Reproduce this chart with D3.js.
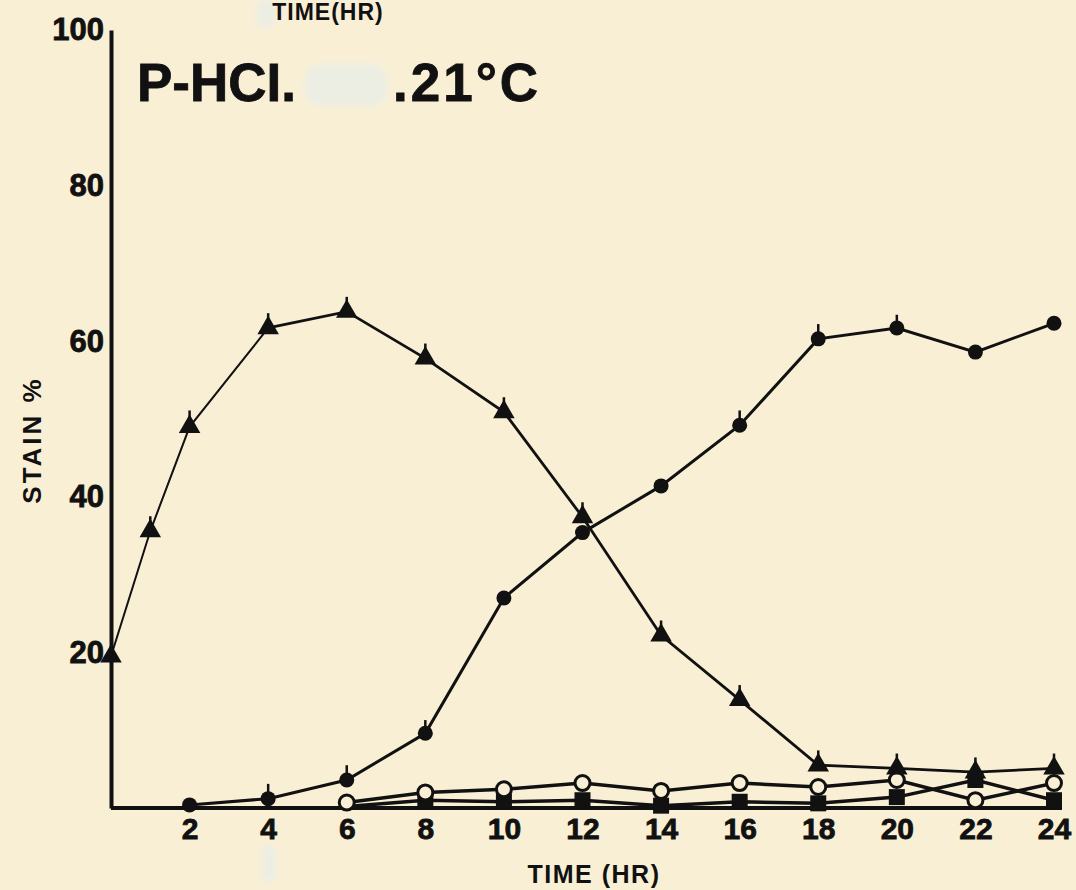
<!DOCTYPE html>
<html><head><meta charset="utf-8">
<script src="https://cdn.jsdelivr.net/npm/d3@7"></script>
<style>
html,body{margin:0;padding:0;background:#f9efd5;}
svg{display:block;}
text{font-family:"Liberation Sans",Arial,sans-serif;font-weight:bold;fill:#111;}
</style></head>
<body><svg id="c" width="1076" height="890"></svg>
<script>
// ---- data ----
const xTicks = [2,4,6,8,10,12,14,16,18,20,22,24];
const yTicks = [20,40,60,80,100];
const triHours = [0,1,2,4,6,8,10,12,14,16,18,20,22,24];
const triVals  = [19.5,35.6,49.0,61.7,63.8,57.8,50.9,37.4,22.2,13.9,5.5,5.1,4.6,5.1];
const triErr   = [0,1.0,1.2,1.0,1.0,1.0,1.0,1.0,1.0,1.0,1.0,1.0,1.0,1.0];
const dotHours = [2,4,6,8,10,12,14,16,18,20,22,24];
const dotVals  = [0.4,1.2,3.6,9.6,27.0,35.4,41.4,49.2,60.3,61.7,58.6,62.3];
const dotErr   = [0,1.0,1.0,0.8,0,0,0,1.0,1.0,0.8,0,0];
const openHours = [6,8,10,12,14,16,18,20,22,24];
const openVals  = [0.7,2.0,2.4,3.2,2.2,3.2,2.7,3.6,1.0,3.2];
const sqHours = [6,8,10,12,14,16,18,20,22,24];
const sqVals  = [0.2,1.0,0.8,1.0,0.3,0.8,0.6,1.4,3.6,1.0];

const svg = d3.select("#c");
const x = d3.scaleLinear().domain([0,24]).range([111,1054]);
const y = d3.scaleLinear().domain([0,100]).range([808,30]);
const ink = "#111";

// pale smudges from the scan
const defs = svg.append("defs");
defs.append("filter").attr("id","blur").append("feGaussianBlur").attr("stdDeviation",3);
const smudge = svg.append("g").attr("fill","#eceee4").attr("filter","url(#blur)");
smudge.append("rect").attr("x",305).attr("y",64).attr("width",82).attr("height",42).attr("rx",16);
smudge.append("rect").attr("x",256).attr("y",0).attr("width",20).attr("height",28).attr("rx",8);
smudge.append("rect").attr("x",262).attr("y",846).attr("width",14).attr("height",36).attr("rx",5);

// axes (via d3 axis, ticks hidden)
const yAxis = svg.append("g").attr("transform",`translate(${x(0)},0)`)
  .call(d3.axisLeft(y).tickValues(yTicks).tickSize(0).tickPadding(7));
yAxis.select(".domain").attr("stroke",ink).attr("stroke-width",4);
yAxis.selectAll("text").attr("font-size",31).attr("fill",ink)
  .attr("stroke",ink).attr("stroke-width",0.8)
  .style("font-family","'Liberation Sans',Arial,sans-serif").style("font-weight","bold");

const xAxis = svg.append("g").attr("transform",`translate(0,${y(0)})`)
  .call(d3.axisBottom(x).tickValues(xTicks).tickSize(0).tickPadding(10));
xAxis.select(".domain").attr("stroke",ink).attr("stroke-width",4)
  .attr("d",`M${x(0)},0H${x(24)+8}`);
xAxis.selectAll("text").attr("font-size",30).attr("fill",ink)
  .attr("stroke",ink).attr("stroke-width",0.8)
  .style("font-family","'Liberation Sans',Arial,sans-serif").style("font-weight","bold");

// labels
svg.append("text").attr("x",594).attr("y",883).attr("text-anchor","middle")
  .attr("font-size",25).attr("letter-spacing",1.5).text("TIME (HR)");
svg.append("text").attr("x",328).attr("y",20).attr("text-anchor","middle")
  .attr("font-size",23).attr("letter-spacing",1).text("TIME(HR)");
svg.append("text").attr("transform","translate(41,440) rotate(-90)").attr("text-anchor","middle")
  .attr("font-size",26).attr("letter-spacing",3).text("STAIN %");
svg.append("text").attr("x",137).attr("y",101).attr("font-size",53)
  .attr("stroke",ink).attr("stroke-width",0.8).text("P-HCI.");
svg.append("text").attr("x",393).attr("y",101).attr("font-size",53).attr("letter-spacing",3)
  .attr("stroke",ink).attr("stroke-width",0.8).text(".21°C");

const line = d3.line().x(d=>x(d[0])).y(d=>y(d[1]));
function zip(a,b){return a.map((v,i)=>[v,b[i]]);}

// lines
svg.append("path").datum(zip(sqHours,sqVals)).attr("d",line)
  .attr("fill","none").attr("stroke",ink).attr("stroke-width",3.5);
svg.append("path").datum(zip(openHours,openVals)).attr("d",line)
  .attr("fill","none").attr("stroke",ink).attr("stroke-width",3.5);
svg.append("path").datum(zip(dotHours,dotVals)).attr("d",line)
  .attr("fill","none").attr("stroke",ink).attr("stroke-width",3);
svg.append("path").datum(zip(triHours,triVals).slice(0,4)).attr("d",line)
  .attr("fill","none").attr("stroke",ink).attr("stroke-width",2);
svg.append("path").datum(zip(triHours,triVals).slice(3)).attr("d",line)
  .attr("fill","none").attr("stroke",ink).attr("stroke-width",2.8);

// error bars (upper)
function errs(h,v,e){
  svg.append("g").selectAll("line").data(zip(h,v).map((d,i)=>[d[0],d[1],e[i]]).filter(d=>d[2]>0))
    .join("line").attr("x1",d=>x(d[0])).attr("x2",d=>x(d[0]))
    .attr("y1",d=>y(d[1])).attr("y2",d=>y(d[1]+d[2])-7)
    .attr("stroke",ink).attr("stroke-width",2.5);
}
errs(triHours,triVals,triErr);
errs(dotHours,dotVals,dotErr);

// markers
svg.append("g").selectAll("rect").data(zip(sqHours,sqVals).slice(1)).join("rect")
  .attr("x",d=>x(d[0])-8).attr("y",d=>y(d[1])-8).attr("width",16).attr("height",16).attr("fill",ink);
svg.append("g").selectAll("circle").data(zip(openHours,openVals)).join("circle")
  .attr("cx",d=>x(d[0])).attr("cy",d=>y(d[1])).attr("r",7.5)
  .attr("fill","#f9efd5").attr("stroke",ink).attr("stroke-width",3);
svg.append("g").selectAll("circle").data(zip(dotHours,dotVals)).join("circle")
  .attr("cx",d=>x(d[0])).attr("cy",d=>y(d[1])).attr("r",7.5).attr("fill",ink);
const tri = d3.symbol().type(d3.symbolTriangle).size(200);
svg.append("g").selectAll("path").data(zip(triHours,triVals)).join("path")
  .attr("transform",d=>`translate(${x(d[0])},${y(d[1])})`).attr("d",tri).attr("fill",ink);
</script></body></html>
